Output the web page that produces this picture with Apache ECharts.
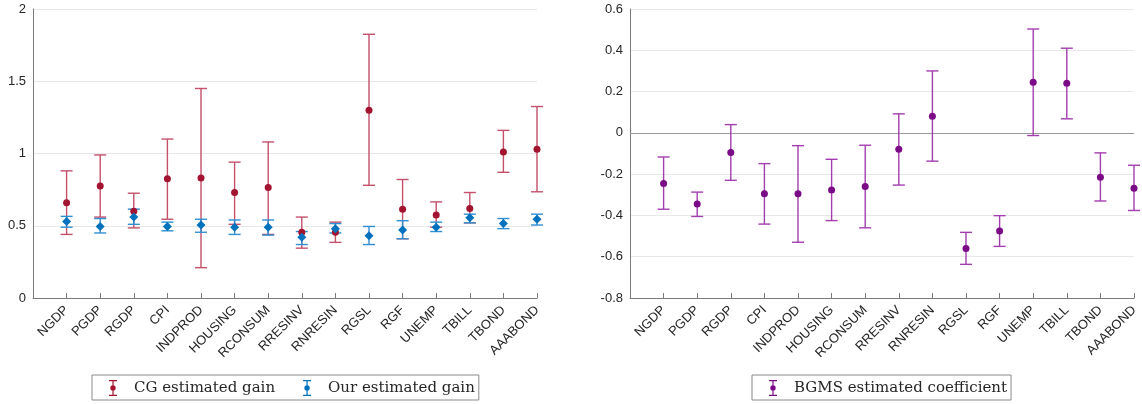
<!DOCTYPE html>
<html>
<head>
<meta charset="utf-8">
<script src="https://cdn.jsdelivr.net/npm/echarts@6/dist/echarts.min.js"></script>
<style>
  html, body { margin: 0; padding: 0; background: #fff; }
  #chart { width: 1142px; height: 404px; }
</style>
</head>
<body>
<div id="chart"></div>
<script>
// Forecast variables on the horizontal axis
const categories = ['NGDP', 'PGDP', 'RGDP', 'CPI', 'INDPROD', 'HOUSING', 'RCONSUM',
  'RRESINV', 'RNRESIN', 'RGSL', 'RGF', 'UNEMP', 'TBILL', 'TBOND', 'AAABOND'];

// Left panel: CG estimated gain with its confidence band
const cgGain  = [0.66, 0.775, 0.60, 0.825, 0.83, 0.73, 0.765, 0.455, 0.455, 1.30, 0.615, 0.575, 0.62, 1.01, 1.03];
const cgLower = [0.44, 0.56, 0.485, 0.545, 0.21, 0.51, 0.44, 0.345, 0.385, 0.78, 0.41, 0.49, 0.52, 0.87, 0.735];
const cgUpper = [0.88, 0.99, 0.725, 1.10, 1.45, 0.94, 1.08, 0.56, 0.525, 1.825, 0.82, 0.665, 0.73, 1.16, 1.325];

// Left panel: our estimated gain with its confidence band
const ourGain  = [0.53, 0.495, 0.56, 0.495, 0.505, 0.49, 0.49, 0.42, 0.48, 0.43, 0.47, 0.49, 0.555, 0.515, 0.545];
const ourLower = [0.49, 0.45, 0.51, 0.465, 0.455, 0.44, 0.435, 0.37, 0.45, 0.37, 0.41, 0.46, 0.52, 0.48, 0.505];
const ourUpper = [0.565, 0.55, 0.615, 0.525, 0.545, 0.54, 0.54, 0.46, 0.515, 0.495, 0.535, 0.525, 0.58, 0.55, 0.58];

// Right panel: BGMS estimated coefficient with its confidence band
const bgmsCoef  = [-0.245, -0.345, -0.095, -0.295, -0.295, -0.277, -0.26, -0.08, 0.08, -0.56, -0.475, 0.245, 0.24, -0.215, -0.268];
const bgmsLower = [-0.37, -0.405, -0.23, -0.442, -0.53, -0.425, -0.46, -0.253, -0.137, -0.637, -0.55, -0.013, 0.068, -0.33, -0.376];
const bgmsUpper = [-0.117, -0.287, 0.04, -0.149, -0.062, -0.128, -0.06, 0.092, 0.30, -0.482, -0.401, 0.503, 0.41, -0.097, -0.157];

// Tick labels on the value axes
const leftTicks = [0, 0.5, 1, 1.5, 2];
const rightTicks = [-0.8, -0.6, -0.4, -0.2, 0, 0.2, 0.4, 0.6];

const AXIS_COLOR = '#7a7a7a';
const TEXT_COLOR = '#262626';
const GRID_COLOR = '#e8e8e8';

// Error-bar glyph used for legend icons
const ERRBAR_ICON = 'path://M0,0 L8,0 L8,1.2 L4.6,1.2 L4.6,14.8 L8,14.8 L8,16 L0,16 L0,14.8 L3.4,14.8 L3.4,1.2 L0,1.2 Z ' +
  'M4,5.3 A2.7,2.7 0 1 1 3.99,5.3 Z';

function points(values) {
  return values.map((v, i) => [i + 1, v]);
}
function bands(lower, upper) {
  return lower.map((lo, i) => [i + 1, lo, upper[i]]);
}

function errorBars(name, gridIdx, data, color) {
  return {
    name: name,
    type: 'custom',
    xAxisIndex: gridIdx,
    yAxisIndex: gridIdx,
    silent: true,
    data: data,
    encode: { x: 0, y: [1, 2] },
    renderItem: function (params, api) {
      const x = api.value(0);
      const lo = api.coord([x, api.value(1)]);
      const hi = api.coord([x, api.value(2)]);
      const half = 6;
      const style = { stroke: color, lineWidth: 1.4, fill: null };
      return {
        type: 'group',
        children: [
          { type: 'line', shape: { x1: lo[0], y1: lo[1], x2: hi[0], y2: hi[1] }, style: style },
          { type: 'line', shape: { x1: hi[0] - half, y1: hi[1], x2: hi[0] + half, y2: hi[1] }, style: style },
          { type: 'line', shape: { x1: lo[0] - half, y1: lo[1], x2: lo[0] + half, y2: lo[1] }, style: style }
        ]
      };
    },
    z: 2
  };
}

function markers(name, gridIdx, data, color, symbol, size) {
  return {
    name: name,
    type: 'scatter',
    xAxisIndex: gridIdx,
    yAxisIndex: gridIdx,
    data: data,
    symbol: symbol,
    symbolSize: size,
    itemStyle: { color: color, opacity: 1 },
    z: 3
  };
}

function xAxisFor(gridIdx) {
  return {
    type: 'value',
    gridIndex: gridIdx,
    min: 0,
    max: categories.length,
    interval: 1,
    axisLine: { show: true, onZero: false, lineStyle: { color: AXIS_COLOR, width: 1 } },
    axisTick: { show: true, inside: true, length: 5, lineStyle: { color: AXIS_COLOR } },
    splitLine: { show: false },
    axisLabel: {
      rotate: 45,
      margin: 10,
      fontFamily: 'Liberation Sans, Arial, sans-serif',
      fontSize: 13,
      color: TEXT_COLOR,
      formatter: function (v) { return categories[v - 1] || ''; }
    }
  };
}

function yAxisFor(gridIdx, ticks) {
  return {
    type: 'value',
    gridIndex: gridIdx,
    min: ticks[0],
    max: ticks[ticks.length - 1],
    interval: ticks[1] - ticks[0],
    axisLine: { show: true, onZero: false, lineStyle: { color: AXIS_COLOR, width: 1 } },
    axisTick: { show: false },
    splitLine: { show: true, lineStyle: { color: GRID_COLOR, width: 1 } },
    axisLabel: {
      margin: 7,
      fontFamily: 'Liberation Sans, Arial, sans-serif',
      fontSize: 13,
      color: TEXT_COLOR,
      formatter: function (v) { return String(Math.round(v * 10) / 10); }
    }
  };
}

function legendFor(left, names) {
  return {
    left: left,
    top: 375,
    orient: 'horizontal',
    data: names,
    icon: ERRBAR_ICON,
    itemWidth: 8,
    itemHeight: 16,
    itemGap: 28,
    padding: [5, 4, 4, 17],
    borderColor: '#8a8a8a',
    borderWidth: 1,
    borderRadius: 0,
    backgroundColor: '#fff',
    selectedMode: false,
    textStyle: {
      fontFamily: 'DejaVu Serif, Liberation Serif, serif',
      fontSize: 15,
      color: TEXT_COLOR,
      padding: [0, 0, 0, 12]
    }
  };
}

const chart = echarts.init(document.getElementById('chart'), null, { renderer: 'canvas' });

chart.setOption({
  backgroundColor: '#ffffff',
  animation: false,
  grid: [
    { left: 33, top: 9, width: 504, height: 289 },
    { left: 630, top: 9, width: 504, height: 289 }
  ],
  xAxis: [xAxisFor(0), xAxisFor(1)],
  yAxis: [yAxisFor(0, leftTicks), yAxisFor(1, rightTicks)],
  legend: [
    legendFor(92, ['CG estimated gain', 'Our estimated gain']),
    legendFor(752, ['BGMS estimated coefficient'])
  ],
  series: [
    errorBars('CG band', 0, bands(cgLower, cgUpper), '#C4506A'),
    markers('CG estimated gain', 0, points(cgGain), '#A2142F', 'circle', 7),
    errorBars('Our band', 0, bands(ourLower, ourUpper), '#2F8FD2'),
    markers('Our estimated gain', 0, points(ourGain), '#0072BD', 'diamond', 9),
    errorBars('BGMS band', 1, bands(bgmsLower, bgmsUpper), '#A33EB0'),
    Object.assign(markers('BGMS estimated coefficient', 1, points(bgmsCoef), '#7A0A86', 'circle', 7), {
      markLine: {
        silent: true,
        symbol: 'none',
        label: { show: false },
        lineStyle: { color: '#9a9a9a', width: 1, type: 'solid' },
        data: [{ yAxis: 0 }],
        z: 1
      }
    })
  ]
});
</script>
</body>
</html>
